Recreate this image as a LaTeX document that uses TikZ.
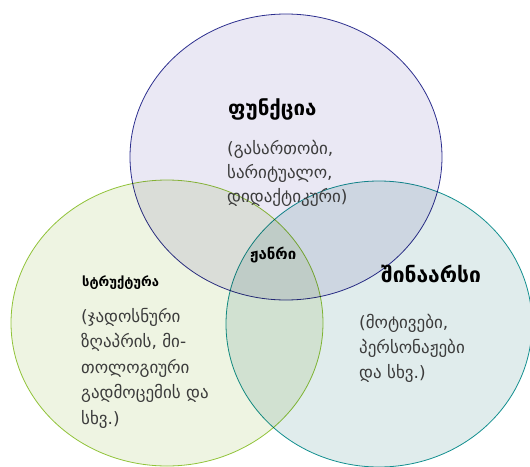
\documentclass[tikz,border=0pt]{standalone}
\usepackage{fontspec}
\setmainfont{DejaVu Sans}
\usetikzlibrary{shapes.geometric, positioning}
\definecolor{myblueline}{RGB}{46,49,146}
\definecolor{mybluefill}{RGB}{234,232,244}
\definecolor{mygreenline}{RGB}{150,200,60}
\definecolor{mygreenfill}{RGB}{238,244,226}
\definecolor{mytealline}{RGB}{20,150,150}
\definecolor{mytealfill}{RGB}{224,236,236}
\definecolor{mytext}{RGB}{60,60,60}
\tikzset{
  circ/.style = {ellipse, minimum width = 312pt, minimum height = 286pt,
                 inner sep = 0pt, outer sep = 0pt, line width = 0.8pt},
  head/.style = {font = \bfseries, inner sep = 0pt, anchor = west, text = black},
  body/.style = {align = left, inner sep = 0pt, anchor = north west, text = mytext}
}

\begin{document}
\begin{tikzpicture}[x = 1pt, y = -1pt]
  \useasboundingbox (0,0) rectangle (530,466);

  \begin{scope}[blend mode = multiply]
    \node [circ, draw = myblueline, fill = mybluefill] (funkcia) at (286,157) {};
    \node [circ, draw = mygreenline, fill = mygreenfill] (struktura) at (167,323) {};
    \node [circ, minimum width = 306pt, draw = mytealline, fill = mytealfill] (shinaarsi) at (379,324) {};
  \end{scope}

  \node [head, font = \bfseries\fontsize{20.5}{24}\selectfont] (funkH) at (228,109) {ფუნქცია};
  \node [body, font = \fontsize{17}{24}\selectfont] (funkB) at (227,140)
        {(გასართობი,\\სარიტუალო,\\დიდაქტიკური)};

  \node [head, font = \bfseries\fontsize{13}{15}\selectfont] (strukH) at (82,283) {სტრუქტურა};
  \node [body, font = \fontsize{17}{25.5}\selectfont] (strukB) at (81,308)
        {(ჯადოსნური\\ზღაპრის, მი-\\თოლოგიური\\გადმოცემის და\\სხვ.)};

  \node [head, font = \bfseries\fontsize{21}{24}\selectfont] (shinH) at (381,274) {შინაარსი};
  \node [body, font = \fontsize{17}{25}\selectfont] (shinB) at (359,314)
        {(მოტივები,\\პერსონაჟები\\და სხვ.)};

  \node [head, font = \bfseries\fontsize{15}{18}\selectfont] (zhanri) at (250,255) {ჟანრი};
\end{tikzpicture}
\end{document}
